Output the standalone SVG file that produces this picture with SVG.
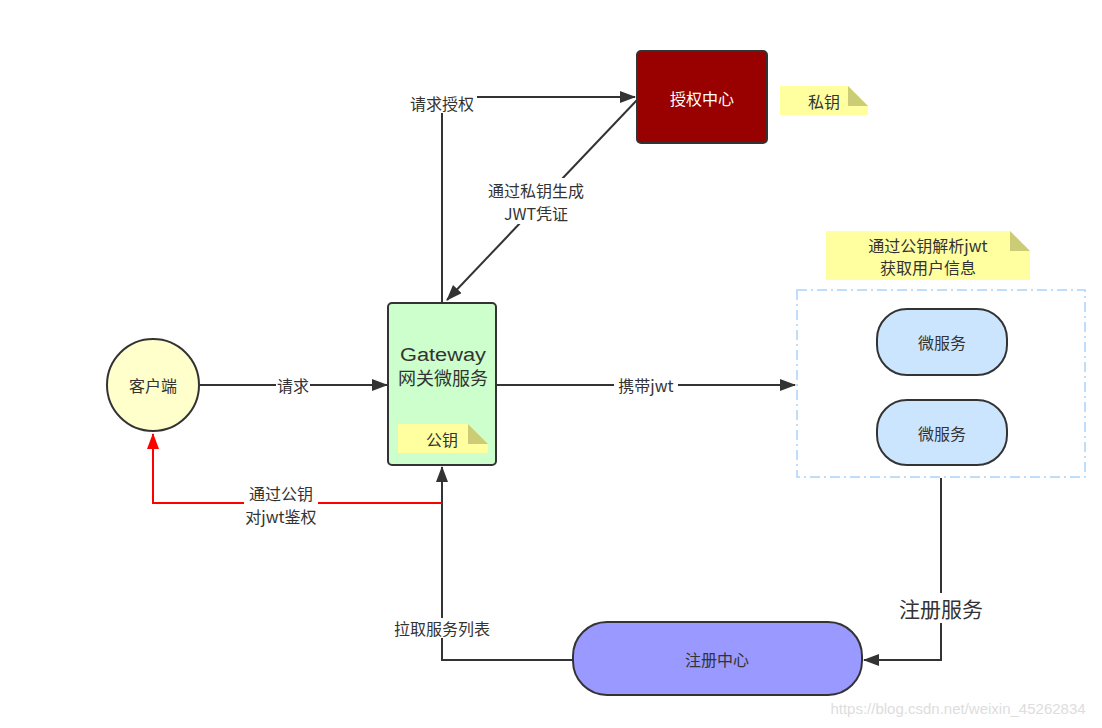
<svg xmlns="http://www.w3.org/2000/svg" width="1102" height="728" viewBox="0 0 1102 728">
<defs>
<marker id="arr" viewBox="0 0 16 12" refX="15" refY="6" markerWidth="16" markerHeight="12" markerUnits="userSpaceOnUse" orient="auto">
<path d="M0,0 L16,6 L0,12 z" fill="#333"/>
</marker>
<marker id="arrR" viewBox="0 0 16 12" refX="15" refY="6" markerWidth="16" markerHeight="12" markerUnits="userSpaceOnUse" orient="auto">
<path d="M0,0 L16,6 L0,12 z" fill="#ff0000"/>
</marker>
</defs>
<style>
text{font-family:"Noto Sans CJK SC","Liberation Sans",sans-serif;fill:#333;font-size:16px;text-anchor:middle;dominant-baseline:central}
.ln{fill:none;stroke:#333;stroke-width:2}
.lbl{fill:#fff}
.note{fill:#ffffa0}
.fold{fill:#cccc77}
.node{stroke:#333;stroke-width:2}
</style>
<rect width="1102" height="728" fill="#fff"/>
<g id="connectors">
<path class="ln" d="M442,302 V97 H635" marker-end="url(#arr)"/>
<path class="ln" d="M637,100 L447,300" marker-end="url(#arr)"/>
<path class="ln" d="M200,385 H387" marker-end="url(#arr)"/>
<path class="ln" d="M496,385 H795" marker-end="url(#arr)"/>
<path class="ln" d="M573,660 H442 V467" marker-end="url(#arr)"/>
<path class="ln" d="M941,478 V660 H864" marker-end="url(#arr)"/>
<path fill="none" stroke="#ff0000" stroke-width="2" d="M442,503 H153 V434" marker-end="url(#arrR)"/>
<rect class="lbl" x="407" y="93" width="70" height="20"/>
<text x="442" y="103">请求授权</text>
<rect class="lbl" x="486" y="178" width="100" height="46"/>
<text x="536" y="190">通过私钥生成</text>
<text x="536" y="213">JWT凭证</text>
<rect class="lbl" x="276" y="375" width="34" height="20"/>
<text x="293" y="385">请求</text>
<rect class="lbl" x="614" y="375" width="64" height="20"/>
<text x="646" y="385">携带jwt</text>
<rect class="lbl" x="244" y="481" width="74" height="46"/>
<text x="281" y="493">通过公钥</text>
<text x="281" y="516">对jwt鉴权</text>
<rect class="lbl" x="390" y="618" width="104" height="20"/>
<text x="442" y="628">拉取服务列表</text>
<rect class="lbl" x="895" y="593" width="92" height="30"/>
<text x="941" y="608" style="font-size:21px">注册服务</text>
</g>
<g id="auth">
<rect class="node" x="637" y="51" width="130" height="92" rx="4" fill="#990000"/>
<text x="702" y="98" style="fill:#fff">授权中心</text>
</g>
<g id="note-private">
<path class="note" d="M780,86 H848 L868,106 V115 H780 z"/>
<path class="fold" d="M848,86 L868,106 H848 z"/>
<text x="824" y="101">私钥</text>
</g>
<g id="client">
<circle class="node" cx="153" cy="385" r="46" fill="#ffffcc"/>
<text x="153" y="385">客户端</text>
</g>
<g id="gateway">
<rect class="node" x="388" y="303" width="108" height="162" rx="4" fill="#ccffcc"/>
<text x="443" y="355" textLength="86" lengthAdjust="spacingAndGlyphs" style="font-size:18px;font-family:'Liberation Sans','Noto Sans CJK SC',sans-serif">Gateway</text>
<text x="443" y="377" style="font-size:18px">网关微服务</text>
</g>
<g id="note-public">
<path class="note" d="M398,424 H468 L488,444 V453 H398 z"/>
<path class="fold" d="M468,424 L488,444 H468 z"/>
<text x="442" y="439">公钥</text>
</g>
<g id="note-parse">
<path class="note" d="M826,231 H1010 L1030,251 V280 H826 z"/>
<path class="fold" d="M1010,231 L1030,251 H1010 z"/>
<text x="928" y="245">通过公钥解析jwt</text>
<text x="928" y="267">获取用户信息</text>
</g>
<g id="services">
<rect x="797" y="290" width="288" height="187" fill="none" stroke="#aad4fa" stroke-width="1.5" stroke-dasharray="10,4,2,4"/>
</g>
<g id="ms1">
<rect class="node" x="877" y="309" width="130" height="66" rx="30" fill="#cce5ff"/>
<text x="942" y="342">微服务</text>
</g>
<g id="ms2">
<rect class="node" x="877" y="400" width="130" height="65" rx="30" fill="#cce5ff"/>
<text x="942" y="433">微服务</text>
</g>
<g id="registry">
<rect class="node" x="573" y="622" width="289" height="73" rx="34" fill="#9999ff"/>
<text x="717" y="659">注册中心</text>
</g>
<text x="958" y="708" style="fill:#dddddd;font-size:15px;font-family:'Liberation Sans',sans-serif">https://blog.csdn.net/weixin_45262834</text>
</svg>
